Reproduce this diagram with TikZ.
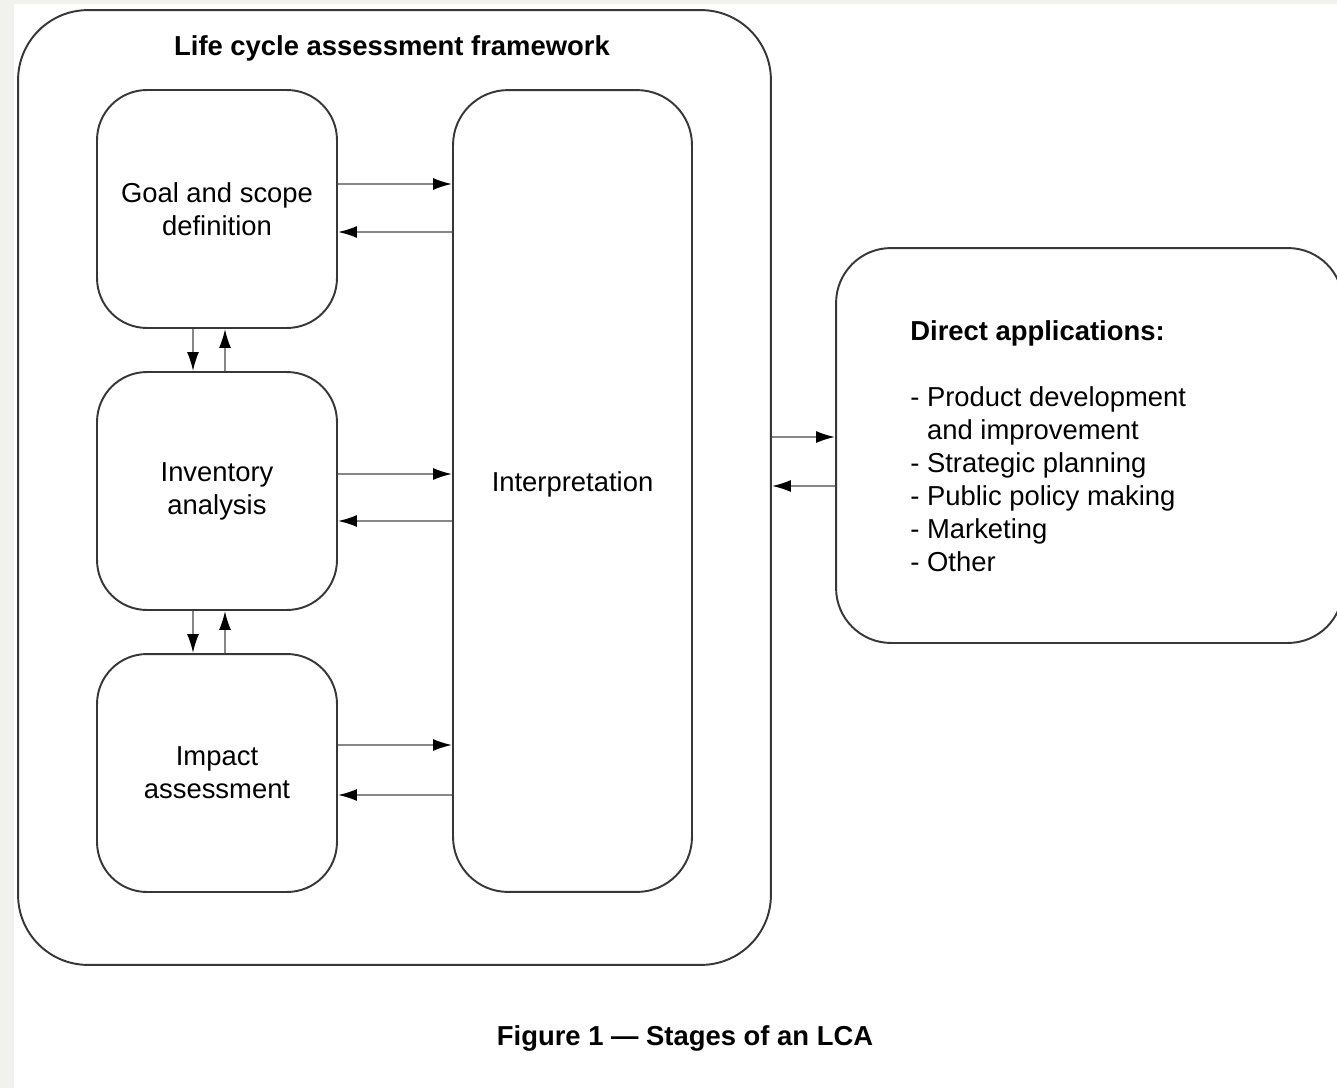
\documentclass[tikz,border=0pt]{standalone}
\usepackage{fontspec}
\setmainfont{Liberation Sans}
\usetikzlibrary{arrows.meta}
\definecolor{pagegray}{RGB}{241,242,238}
\definecolor{linegray}{RGB}{55,55,55}
\definecolor{arrowgray}{RGB}{135,135,135}
\tikzset{>={Latex[length=0.38cm,width=0.24cm,color=black]}}
\tikzset{
  txt/.style={font=\fontsize{15.6}{18.8}\selectfont},
  stage/.style={txt,draw=linegray,line width=1.1pt,rounded corners=1cm,
    minimum width=4.8cm,minimum height=4.76cm,align=center},
  flow/.style={->,draw=arrowgray,line width=1pt}
}

\begin{document}
\begin{tikzpicture}[x=0.02cm,y=-0.02cm]
    \useasboundingbox (0,0) rectangle (1337,1088);
    \fill[pagegray] (0,0) rectangle (1337,1088);
    \fill[white] (14,4) rectangle (1337,1088);
    \node[stage,minimum width=15.06cm,minimum height=19.1cm,rounded corners=1.4cm] (lca) at (394.5,487.5) {};
    \node[txt,font=\fontsize{15.6}{18.8}\selectfont\bfseries] (title) at (392,48) {Life cycle assessment framework};
    \node[stage] (goal) at (217,209) {Goal and scope\\definition};
    \node[stage] (inv) at (217,491) {Inventory\\analysis};
    \node[stage] (impact) at (217,773) {Impact\\assessment};
    \node[stage,minimum width=4.78cm,minimum height=16.04cm,rounded corners=1.1cm] (interp) at (572.5,491) {};
    \node[txt] (interptext) at (572.5,484) {Interpretation};
    \node[stage,minimum width=10.14cm,minimum height=7.9cm,rounded corners=1.1cm] (apps) at (1089.5,445.5) {};
    \node[txt,anchor=west,align=left,inner sep=0pt] (appstext) at (910,446.5)
    {\textbf{Direct applications:}\\[18.8pt]
     - Product development\\
     \phantom{- }and improvement\\
     - Strategic planning\\
     - Public policy making\\
     - Marketing\\
     - Other};
    \draw[flow] (goal.east |- 0,184) -- (interp.west |- 0,184);
    \draw[flow] (interp.west |- 0,232) -- (goal.east |- 0,232);
    \draw[flow] (inv.east |- 0,474) -- (interp.west |- 0,474);
    \draw[flow] (interp.west |- 0,521) -- (inv.east |- 0,521);
    \draw[flow] (impact.east |- 0,745) -- (interp.west |- 0,745);
    \draw[flow] (interp.west |- 0,795) -- (impact.east |- 0,795);
    \draw[flow] (goal.south -| 193,0) -- (inv.north -| 193,0);
    \draw[flow] (inv.north -| 225,0) -- (goal.south -| 225,0);
    \draw[flow] (inv.south -| 193,0) -- (impact.north -| 193,0);
    \draw[flow] (impact.north -| 225,0) -- (inv.south -| 225,0);
    \draw[flow] (lca.east |- 0,437) -- (apps.west |- 0,437);
    \draw[flow] (apps.west |- 0,486) -- (lca.east |- 0,486);
    \node[txt,font=\fontsize{15.6}{18.8}\selectfont\bfseries] (caption) at (685,1038) {Figure 1 --- Stages of an LCA};
\end{tikzpicture}
\end{document}
